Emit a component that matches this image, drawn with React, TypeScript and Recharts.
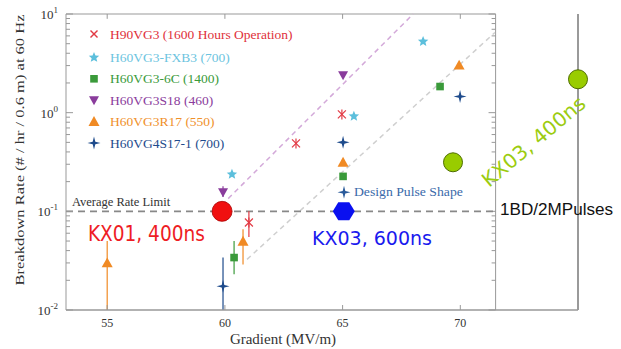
import React from 'react';
import { ComposedChart, Scatter, XAxis, YAxis, ErrorBar, ReferenceLine, ReferenceDot } from 'recharts';

// ---------- data ----------
const xTicks = [55, 60, 65, 70];
const yMajorTicks = [0.01, 0.1, 1, 10];
const yMinorMultipliers = [2, 3, 4, 5, 6, 7, 8, 9];
const xDomain = [53.25, 75];
const yDomain = [0.01, 10];
const mainRight = 71.5;
const rateLimit = 0.1;

// H90VG3 (1600 Hours Operation)
const h90X = [61.02, 63.02, 64.97];
const h90Y = [0.077, 0.488, 0.96];
const h90Lo = [0.055, 0.488, 0.96];
const h90Hi = [0.1, 0.488, 0.96];
// H60VG3-FXB3 (700)
const fxb3X = [60.3, 65.48, 68.42];
const fxb3Y = [0.237, 0.92, 5.27];
// H60VG3-6C (1400)
const c6X = [60.39, 65.02, 69.14];
const c6Y = [0.034, 0.226, 1.84];
const c6Lo = [0.023, 0.226, 1.84];
const c6Hi = [0.05, 0.226, 1.84];
// H60VG3S18 (460)
const s18X = [59.92, 65.02];
const s18Y = [0.156, 2.39];
const s18Lo = [0.14, 2.39];
const s18Hi = [0.18, 2.39];
// H60VG3R17 (550)
const r17X = [55, 60.77, 65.02, 69.95];
const r17Y = [0.03, 0.0497, 0.314, 3.03];
const r17Lo = [0.01, 0.029, 0.314, 3.03];
const r17Hi = [0.05, 0.066, 0.314, 3.03];
// H60VG4S17-1 (700)
const s17X = [59.92, 65.02, 69.99];
const s17Y = [0.0174, 0.5, 1.46];
const s17Lo = [0.01, 0.5, 1.46];
const s17Hi = [0.034, 0.5, 1.46];
// design pulse shape marker
const designX = [65.06];
const designY = [0.156];
// KX structures
const kx01X = [59.88];
const kx01Y = [0.1];
const kx03_600X = [65.05];
const kx03_600Y = [0.1];
const kx03_400X = [69.69, 75.0];
const kx03_400Y = [0.314, 2.18];

// fit guide lines (dashed diagonals)
const guide1 = [{ x: 59.6, y: 0.1 }, { x: 68.0, y: 10 }];
const guide2 = [{ x: 60.94, y: 0.0326 }, { x: 71.47, y: 6.5 }];

const legendNames = [
  'H90VG3 (1600 Hours Operation)',
  'H60VG3-FXB3 (700)',
  'H60VG3-6C (1400)',
  'H60VG3S18 (460)',
  'H60VG3R17 (550)',
  'H60VG4S17-1 (700)',
];
const colors = ['#e23a44', '#5cbfdc', '#3a9a3a', '#8a3c9c', '#f08a24', '#1e4b8c'];
const legendText = ['#e0303a', '#6cc4e0', '#3a9a3a', '#8a3c9c', '#f0902a', '#1e4b8c'];

// ---------- helpers ----------
const mk = (xs: number[], ys: number[], lo?: number[], hi?: number[]) =>
  xs.map((x, i) => ({
    x,
    y: ys[i],
    err: lo && hi ? [ys[i] - lo[i], hi[i] - ys[i]] : [0, 0],
  }));

const yAllTicks: number[] = [];
yMajorTicks.forEach((m, i) => {
  yAllTicks.push(m);
  if (i < yMajorTicks.length - 1) yMinorMultipliers.forEach((k) => yAllTicks.push(m * k));
});
const isMajor = (v: number) => Math.abs(Math.log10(v) - Math.round(Math.log10(v))) < 1e-6;

// ---------- marker shapes ----------
const Asterisk = ({ cx, cy, color, r = 4 }: any) => (
  <g stroke={color} strokeWidth={1.2}>
    <line x1={cx - r} y1={cy - r} x2={cx + r} y2={cy + r} />
    <line x1={cx - r} y1={cy + r} x2={cx + r} y2={cy - r} />
    <line x1={cx} y1={cy - r - 1} x2={cx} y2={cy + r + 1} />
  </g>
);
const Cross = ({ cx, cy, color, r = 3.5 }: any) => (
  <g stroke={color} strokeWidth={1.4}>
    <line x1={cx - r} y1={cy - r} x2={cx + r} y2={cy + r} />
    <line x1={cx - r} y1={cy + r} x2={cx + r} y2={cy - r} />
  </g>
);
const Star5 = ({ cx, cy, color, r = 5.5 }: any) => {
  const pts: string[] = [];
  for (let i = 0; i < 10; i++) {
    const rr = i % 2 === 0 ? r : r * 0.45;
    const a = -Math.PI / 2 + (i * Math.PI) / 5;
    pts.push(`${cx + rr * Math.cos(a)},${cy + rr * Math.sin(a)}`);
  }
  return <polygon points={pts.join(' ')} fill={color} />;
};
const Square = ({ cx, cy, color, r = 3.8 }: any) => (
  <rect x={cx - r} y={cy - r} width={2 * r} height={2 * r} fill={color} />
);
const TriDown = ({ cx, cy, color, r = 5 }: any) => (
  <polygon points={`${cx - r},${cy - r * 0.8} ${cx + r},${cy - r * 0.8} ${cx},${cy + r}`} fill={color} />
);
const TriUp = ({ cx, cy, color, r = 5.5 }: any) => (
  <polygon points={`${cx - r},${cy + r * 0.8} ${cx + r},${cy + r * 0.8} ${cx},${cy - r}`} fill={color} />
);
const Plus4 = ({ cx, cy, color, r = 6.5 }: any) => {
  const w = 1.3;
  return (
    <path
      d={`M${cx},${cy - r} L${cx + w},${cy - w} L${cx + r},${cy} L${cx + w},${cy + w} L${cx},${cy + r} L${cx - w},${cy + w} L${cx - r},${cy} L${cx - w},${cy - w} Z`}
      fill={color}
    />
  );
};
const Hexagon = ({ cx, cy, color }: any) => {
  const rx = 11, ry = 9;
  return (
    <polygon
      points={`${cx - rx},${cy} ${cx - rx / 2},${cy - ry} ${cx + rx / 2},${cy - ry} ${cx + rx},${cy} ${cx + rx / 2},${cy + ry} ${cx - rx / 2},${cy + ry}`}
      fill={color}
    />
  );
};

const markerFns = [Cross, Star5, Square, TriDown, TriUp, Plus4];

// ---------- axis ticks ----------
const YTick = (props: any) => {
  const { x, y, payload } = props;
  const v = payload.value;
  const major = isMajor(v);
  const exp = Math.round(Math.log10(v));
  return (
    <g>
      <line x1={x} x2={x + (major ? 7 : 4)} y1={y} y2={y} stroke="#999" strokeWidth={1} />
      {major && (
        <text x={x - 8} y={y + 5} textAnchor="end" fontFamily="Liberation Serif" fontSize={13} fill="#333">
          10
          <tspan dy={-6} fontSize={9}>{exp}</tspan>
        </text>
      )}
    </g>
  );
};
const XTick = (props: any) => {
  const { x, y, payload } = props;
  return (
    <g>
      <line x1={x} x2={x} y1={y} y2={y - 5} stroke="#999" />
      <text x={x} y={y + 17} textAnchor="middle" fontFamily="Liberation Serif" fontSize={12} fill="#333">
        {payload.value}
      </text>
    </g>
  );
};

const textDot = (render: (cx: number, cy: number) => React.ReactElement) => (p: any) => render(p.cx, p.cy);

export default function App() {
  const h90 = mk(h90X, h90Y, h90Lo, h90Hi);
  const fxb3 = mk(fxb3X, fxb3Y);
  const c6 = mk(c6X, c6Y, c6Lo, c6Hi);
  const s18 = mk(s18X, s18Y, s18Lo, s18Hi);
  const r17 = mk(r17X, r17Y, r17Lo, r17Hi);
  const s17 = mk(s17X, s17Y, s17Lo, s17Hi);
  const design = mk(designX, designY);
  const kx01 = mk(kx01X, kx01Y);
  const kx03a = mk(kx03_600X, kx03_600Y);
  const kx03b = mk(kx03_400X, kx03_400Y);

  return (
    <div style={{ position: 'absolute', left: 0, top: 0, width: 621, height: 349, background: '#fff' }}>
      <ComposedChart width={621} height={349} margin={{ top: 14, right: 43, bottom: 0, left: 0 }}>
        <XAxis
          type="number"
          dataKey="x"
          domain={xDomain}
          ticks={xTicks}
          interval={0}
          tickSize={0}
          tickMargin={0}
          tickLine={false}
          tick={<XTick />}
          axisLine={{ stroke: '#999', strokeWidth: 1.5 }}
          height={39}
        />
        <YAxis
          type="number"
          dataKey="y"
          scale="log"
          domain={yDomain}
          ticks={yAllTicks}
          interval={0}
          tickSize={0}
          tickMargin={0}
          tickLine={false}
          tick={<YTick />}
          axisLine={{ stroke: '#999', strokeWidth: 1 }}
          width={66}
        />

        {/* frame */}
        <ReferenceLine segment={[{ x: xDomain[0], y: 10 }, { x: mainRight, y: 10 }]} stroke="#999" strokeWidth={1} />
        <ReferenceLine segment={[{ x: mainRight, y: 0.01 }, { x: mainRight, y: 10 }]} stroke="#999" strokeWidth={1} />
        <ReferenceLine segment={[{ x: xDomain[1], y: 0.01 }, { x: xDomain[1], y: 10 }]} stroke="#9a9a9a" strokeWidth={2} />
        {xTicks.map((t) => (
          <ReferenceLine key={'tt' + t} segment={[{ x: t, y: 10 }, { x: t, y: 10 / 1.12 }]} stroke="#999" />
        ))}
        {yAllTicks.map((v) => (
          <ReferenceLine
            key={'rt' + v}
            segment={[{ x: mainRight - (isMajor(v) ? 0.3 : 0.17), y: v }, { x: mainRight, y: v }]}
            stroke="#999"
          />
        ))}

        {/* guide lines */}
        <ReferenceLine segment={guide1} stroke="#d3a9d9" strokeWidth={1.5} strokeDasharray="5 4" />
        <ReferenceLine segment={guide2} stroke="#cfcfcf" strokeWidth={1.5} strokeDasharray="5 4" />
        <ReferenceLine segment={[{ x: xDomain[0], y: rateLimit }, { x: mainRight, y: rateLimit }]} stroke="#888" strokeWidth={1.6} strokeDasharray="7 5" />

        {/* series */}
        <Scatter data={h90} dataKey="y" isAnimationActive={false} shape={(p: any) => <Asterisk cx={p.cx} cy={p.cy} color={colors[0]} />}>
          <ErrorBar dataKey="err" direction="y" width={0} stroke={colors[0]} strokeWidth={1.2} />
        </Scatter>
        <Scatter data={fxb3} dataKey="y" isAnimationActive={false} shape={(p: any) => <Star5 cx={p.cx} cy={p.cy} color={colors[1]} />} />
        <Scatter data={c6} dataKey="y" isAnimationActive={false} shape={(p: any) => <Square cx={p.cx} cy={p.cy} color={colors[2]} />}>
          <ErrorBar dataKey="err" direction="y" width={0} stroke={colors[2]} strokeWidth={1.2} />
        </Scatter>
        <Scatter data={s18} dataKey="y" isAnimationActive={false} shape={(p: any) => <TriDown cx={p.cx} cy={p.cy} color={colors[3]} />}>
          <ErrorBar dataKey="err" direction="y" width={0} stroke={colors[3]} strokeWidth={1.2} />
        </Scatter>
        <Scatter data={r17} dataKey="y" isAnimationActive={false} shape={(p: any) => <TriUp cx={p.cx} cy={p.cy} color={colors[4]} />}>
          <ErrorBar dataKey="err" direction="y" width={0} stroke={colors[4]} strokeWidth={1.2} />
        </Scatter>
        <Scatter data={s17} dataKey="y" isAnimationActive={false} shape={(p: any) => <Plus4 cx={p.cx} cy={p.cy} color={colors[5]} />}>
          <ErrorBar dataKey="err" direction="y" width={0} stroke={colors[5]} strokeWidth={1.2} />
        </Scatter>
        <Scatter data={design} dataKey="y" isAnimationActive={false} shape={(p: any) => <Plus4 cx={p.cx} cy={p.cy} color="#2a5a9a" />} />

        <Scatter data={kx01} dataKey="y" isAnimationActive={false} shape={(p: any) => <circle cx={p.cx} cy={p.cy} r={10} fill="#f01010" stroke="#a00" strokeWidth={0.8} />} />
        <Scatter data={kx03a} dataKey="y" isAnimationActive={false} shape={(p: any) => <Hexagon cx={p.cx} cy={p.cy} color="#0a10f0" />} />
        <Scatter data={kx03b} dataKey="y" isAnimationActive={false} shape={(p: any) => <circle cx={p.cx} cy={p.cy} r={9.5} fill="#99cc00" stroke="#4f6e00" strokeWidth={1} />} />

        {/* annotations */}
        <ReferenceDot x={53.5} y={0.112} r={0} shape={textDot((cx, cy) => (
          <text x={cx} y={cy} fontFamily="Liberation Serif" fontSize={12.5} fill="#333">Average Rate Limit</text>
        ))} />
        <ReferenceDot x={54.18} y={0.0497} r={0} shape={textDot((cx, cy) => (
          <text x={cx} y={cy} fontFamily="DejaVu Sans" fontSize={21} fill="#ee1c24" textLength={117} lengthAdjust="spacingAndGlyphs">KX01, 400ns</text>
        ))} />
        <ReferenceDot x={63.7} y={0.0454} r={0} shape={textDot((cx, cy) => (
          <text x={cx} y={cy} fontFamily="DejaVu Sans" fontSize={19} fill="#1a1aee" textLength={120} lengthAdjust="spacingAndGlyphs">KX03, 600ns</text>
        ))} />
        <ReferenceDot x={65.48} y={0.1417} r={0} shape={textDot((cx, cy) => (
          <text x={cx} y={cy} fontFamily="Liberation Serif" fontSize={12.5} fill="#3a6aaa" textLength={109} lengthAdjust="spacingAndGlyphs">Design Pulse Shape</text>
        ))} />
        <ReferenceDot x={71.69} y={0.091} r={0} shape={textDot((cx, cy) => (
          <text x={cx} y={cy} fontFamily="Liberation Sans" fontSize={16} fill="#111" textLength={113} lengthAdjust="spacingAndGlyphs">1BD/2MPulses</text>
        ))} />
        <ReferenceDot x={73.3} y={0.45} r={0} shape={textDot((cx, cy) => (
          <text x={cx} y={cy} transform={`rotate(-40 ${cx} ${cy})`} textAnchor="middle" fontFamily="DejaVu Sans" fontSize={20} fill="#9ccc10" textLength={128} lengthAdjust="spacingAndGlyphs">KX03, 400ns</text>
        ))} />

        {/* axis labels */}
        <text x={283} y={344} textAnchor="middle" fontFamily="Liberation Serif" fontSize={15} fill="#333">Gradient (MV/m)</text>
        <text x={24} y={150} transform="rotate(-90 24 150)" textAnchor="middle" fontFamily="Liberation Serif" fontSize={13} fill="#333" textLength={271} lengthAdjust="spacingAndGlyphs">
          Breakdown Rate (# / hr / 0.6 m) at 60 Hz
        </text>
      </ComposedChart>

      {/* legend */}
      <svg width={621} height={349} style={{ position: 'absolute', left: 0, top: 0, pointerEvents: 'none' }}>
        {legendNames.map((name, i) => {
          const cy = 34 + i * 21.4 + (i > 0 ? 2 : 0);
          const M = markerFns[i];
          return (
            <g key={name}>
              <M cx={94} cy={cy} color={colors[i]} />
              <text x={110} y={cy + 4.5} fontFamily="Liberation Serif" fontSize={13.5} fill={legendText[i]}>{name}</text>
            </g>
          );
        })}
      </svg>
    </div>
  );
}
